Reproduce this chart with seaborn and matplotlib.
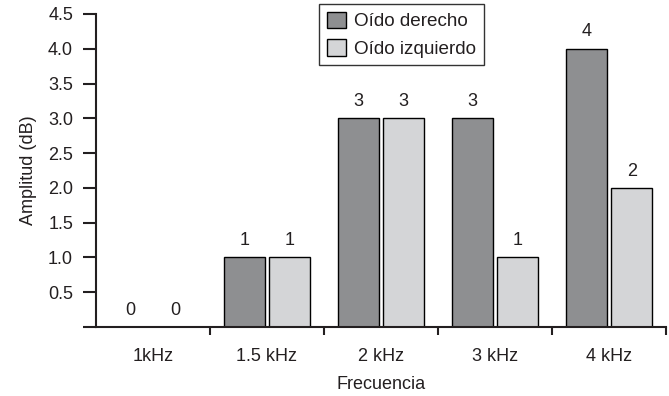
import matplotlib
matplotlib.use("Agg")
import matplotlib.pyplot as plt
import seaborn as sns
import pandas as pd
from matplotlib.ticker import FixedLocator

categories = ["1kHz", "1.5 kHz", "2 kHz", "3 kHz", "4 kHz"]
oido_derecho = [0, 1, 3, 3, 4]
oido_izquierdo = [0, 1, 3, 1, 2]
series_names = ["Oído derecho", "Oído izquierdo"]
yticks = [0, 0.5, 1.0, 1.5, 2.0, 2.5, 3.0, 3.5, 4.0, 4.5]
ytick_labels = ["", "0.5", "1.0", "1.5", "2.0", "2.5", "3.0", "3.5", "4.0", "4.5"]

df = pd.DataFrame({
    "Frecuencia": categories * 2,
    "Amplitud": oido_derecho + oido_izquierdo,
    "Oído": [series_names[0]] * len(categories) + [series_names[1]] * len(categories),
})

sns.set_style("white")
plt.rcParams["font.family"] = ["Liberation Sans", "DejaVu Sans"]

FS = 13
TXT = "#231f20"

fig = plt.figure(figsize=(6.69, 3.96), dpi=100)
ax = fig.add_axes([96 / 669, 1 - 327 / 396, 570 / 669, 313 / 396])

palette = {series_names[0]: "#8e8f91", series_names[1]: "#d4d5d7"}
sns.barplot(data=df, x="Frecuencia", y="Amplitud", hue="Oído", order=categories,
            hue_order=series_names, palette=palette, width=0.8, gap=0.1,
            edgecolor="black", linewidth=1.0, saturation=1, ax=ax, legend=False)

for cont in ax.containers:
    ax.bar_label(cont, fmt="%d", padding=6, fontsize=FS, color=TXT)

ax.set_xlim(-0.5, 4.5)
ax.set_ylim(0, 4.5)
ax.set_yticks(yticks)
ax.set_yticklabels(ytick_labels, fontsize=FS, color=TXT)
ax.tick_params(axis="y", which="major", length=9.5, width=1.5, color=TXT, pad=7, left=True)
ax.tick_params(axis="x", which="major", length=0, labelsize=FS, labelcolor=TXT, pad=15)
ax.xaxis.set_minor_locator(FixedLocator([0.5, 1.5, 2.5, 3.5, 4.5]))
ax.tick_params(axis="x", which="minor", length=6, width=1.5, color=TXT, bottom=True, direction="out")

for s in ["top", "right"]:
    ax.spines[s].set_visible(False)
for s in ["left", "bottom"]:
    ax.spines[s].set_linewidth(1.5)
    ax.spines[s].set_color(TXT)

ax.set_xlabel("Frecuencia", fontsize=FS, color=TXT, labelpad=8)
ax.set_ylabel("Amplitud (dB)", fontsize=FS, color=TXT, labelpad=8)

handles = [plt.Rectangle((0, 0), 1, 1, facecolor=palette[n], edgecolor="black", linewidth=1.0)
           for n in series_names]
leg = fig.legend(handles, series_names, loc="upper center", bbox_to_anchor=(401.5 / 669, 1 - 4 / 396),
                 frameon=True, fancybox=False, fontsize=13.6, handlelength=1.0, handleheight=1.0,
                 handletextpad=0.45, borderpad=0.4, labelspacing=0.45, borderaxespad=0)
leg.get_frame().set_edgecolor("black")
leg.get_frame().set_linewidth(1.0)
for t in leg.get_texts():
    t.set_color(TXT)

fig.savefig("out.png", dpi=100)
